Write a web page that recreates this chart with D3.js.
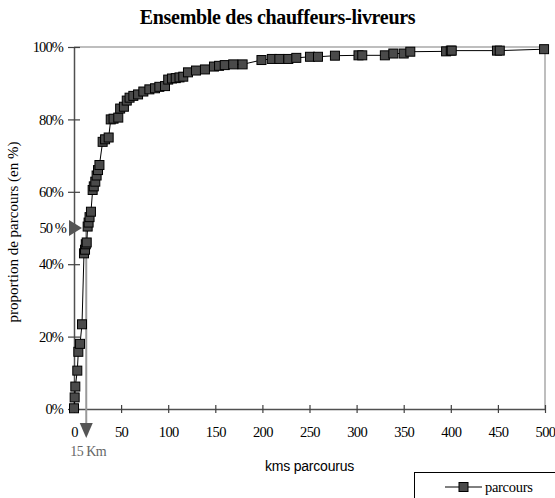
<!DOCTYPE html>
<html><head><meta charset="utf-8">
<script src="https://cdn.jsdelivr.net/npm/d3@7"></script>
<style>
body{margin:0;background:#fff;}
svg{display:block;}
</style></head>
<body><svg id="c" width="555" height="498" font-family="Liberation Serif, Times New Roman, serif"></svg>
<script>
const titleText = "Ensemble des chauffeurs-livreurs";
const xTitle = "kms parcourus";
const yTitle = "proportion de parcours (en %)";
const seriesName = "parcours";
const km = [0,0.7,1.4,3.5,4.6,6.4,8.5,10.6,11.7,12.5,13.5,14.5,15.5,16.5,18,19.8,21,22.6,24,25.5,27,30.4,33,36.8,39,42,47,49,53,56,59,63,68,73.6,80,86,90.6,96.6,100,104,108,112,116,121,129.5,139,148.6,154,160,169,179,199,210,218,227.5,236,250.5,259,277,302,306,330,339,350,357,395,400,401,449,452,499];
const pct = [0.2,3.2,6.2,10.6,15.8,18,23.4,43,44,45.5,46,50.4,51.5,53,54.5,60.5,61.5,62.8,64.5,66,67.4,73.8,74.5,75,80,80.2,80.5,83,83.5,85.2,86,86.5,86.9,87.7,88.3,88.6,89,89.2,91,91.3,91.4,91.6,91.8,93,93.5,93.8,94.6,94.8,95,95.2,95.2,96.4,96.7,96.7,96.7,97,97.3,97.3,97.6,97.7,97.7,97.7,98.2,98.2,98.7,98.8,99,99,99,99,99.4];
const xTicks = [0,50,100,150,200,250,300,350,400,450,500];
const yTicks = [0,20,40,60,80,100];
const medianPct = 50;
const medianKm = 13;
const medianLabel = "15 Km";
const medianPctLabel = "50 %";

const SERIF = "Liberation Serif, Times New Roman, serif";
const svg = d3.select("#c");
const x = d3.scaleLinear().domain([0,500]).range([74,545]);
const y = d3.scaleLinear().domain([0,100]).range([409,47]);

// title
svg.append("text").attr("x",277.5).attr("y",24).attr("text-anchor","middle")
  .attr("font-size",20).attr("font-weight","bold").attr("letter-spacing",-0.3).text(titleText);

// plot frame (top & right)
svg.append("line").attr("x1",x(0)).attr("x2",x(500)).attr("y1",y(100)).attr("y2",y(100)).attr("stroke","#a8a8a8").attr("stroke-width",1.5);
svg.append("line").attr("x1",x(500)).attr("x2",x(500)).attr("y1",y(100)).attr("y2",y(0)).attr("stroke","#a8a8a8").attr("stroke-width",1.5);

// axes
const gx = svg.append("g").attr("transform",`translate(0,${y(0)})`)
  .call(d3.axisBottom(x).tickValues(xTicks).tickSizeInner(4).tickSizeOuter(0).tickPadding(14));
gx.selectAll(".tick line").attr("y1",-4).attr("y2",4);
const gy = svg.append("g").attr("transform",`translate(${x(0)},0)`)
  .call(d3.axisLeft(y).tickValues(yTicks).tickFormat(d=>d+"%").tickSizeInner(6).tickSizeOuter(0).tickPadding(5));
gy.selectAll(".tick line").attr("x1",-6).attr("x2",6);
[gx,gy].forEach(g=>{
  g.attr("font-family",SERIF);
  g.select(".domain").attr("stroke","#505050").attr("stroke-width",1.5);
  g.selectAll(".tick line").attr("stroke","#404040").attr("stroke-width",1.2);
  g.selectAll("text").attr("fill","#000");
});
gx.selectAll("text").attr("font-size",14.5).attr("letter-spacing",-0.6);
gy.selectAll("text").attr("font-size",14.5).attr("letter-spacing",-0.9);

// median markers
svg.append("line").attr("x1",x(medianKm)).attr("x2",x(medianKm)).attr("y1",y(medianPct)).attr("y2",424)
  .attr("stroke","#999").attr("stroke-width",2);
const mx = x(medianKm);
svg.append("path").attr("d",`M${mx-6.5},423 L${mx+6.5},423 L${mx},438 Z`).attr("fill","#555");
const my = y(medianPct);
svg.append("path").attr("d",`M69,${my-8} L82,${my} L69,${my+8} Z`).attr("fill","#555");
svg.append("text").attr("x",66).attr("y",my+5).attr("text-anchor","end").attr("font-size",14.5)
  .attr("letter-spacing",-0.9).text(medianPctLabel);
svg.append("text").attr("x",mx+2).attr("y",456).attr("text-anchor","middle").attr("font-size",14)
  .attr("letter-spacing",-0.5).attr("fill","#666").text(medianLabel);

// series
const data = km.map((k,i)=>({k, p:pct[i]}));
svg.append("path").datum(data).attr("fill","none").attr("stroke","#000").attr("stroke-width",1)
  .attr("d", d3.line().x(d=>x(d.k)).y(d=>y(d.p)));
svg.append("g").selectAll("rect").data(data).join("rect")
  .attr("x",d=>x(d.k)-4.5).attr("y",d=>y(d.p)-4.5).attr("width",9).attr("height",9)
  .attr("fill","#4a4a4a").attr("stroke","#000").attr("stroke-width",1);

// axis titles
svg.append("text").attr("transform","translate(18,232) rotate(-90)").attr("text-anchor","middle")
  .attr("font-size",15).text(yTitle);
svg.append("text").attr("x",309.5).attr("y",471).attr("text-anchor","middle")
  .attr("font-family","Liberation Sans, Arial, sans-serif").attr("font-size",14).attr("letter-spacing",-0.2).text(xTitle);

// legend
svg.append("rect").attr("x",414.5).attr("y",472.5).attr("width",160).attr("height",40)
  .attr("fill","#fff").attr("stroke","#000").attr("stroke-width",1);
svg.append("line").attr("x1",445).attr("x2",482).attr("y1",487).attr("y2",487).attr("stroke","#000");
svg.append("rect").attr("x",459).attr("y",482.5).attr("width",9).attr("height",9).attr("fill","#4a4a4a").attr("stroke","#000");
svg.append("text").attr("x",485).attr("y",492).attr("font-size",14.5).attr("letter-spacing",-0.3).text(seriesName);
</script></body></html>
